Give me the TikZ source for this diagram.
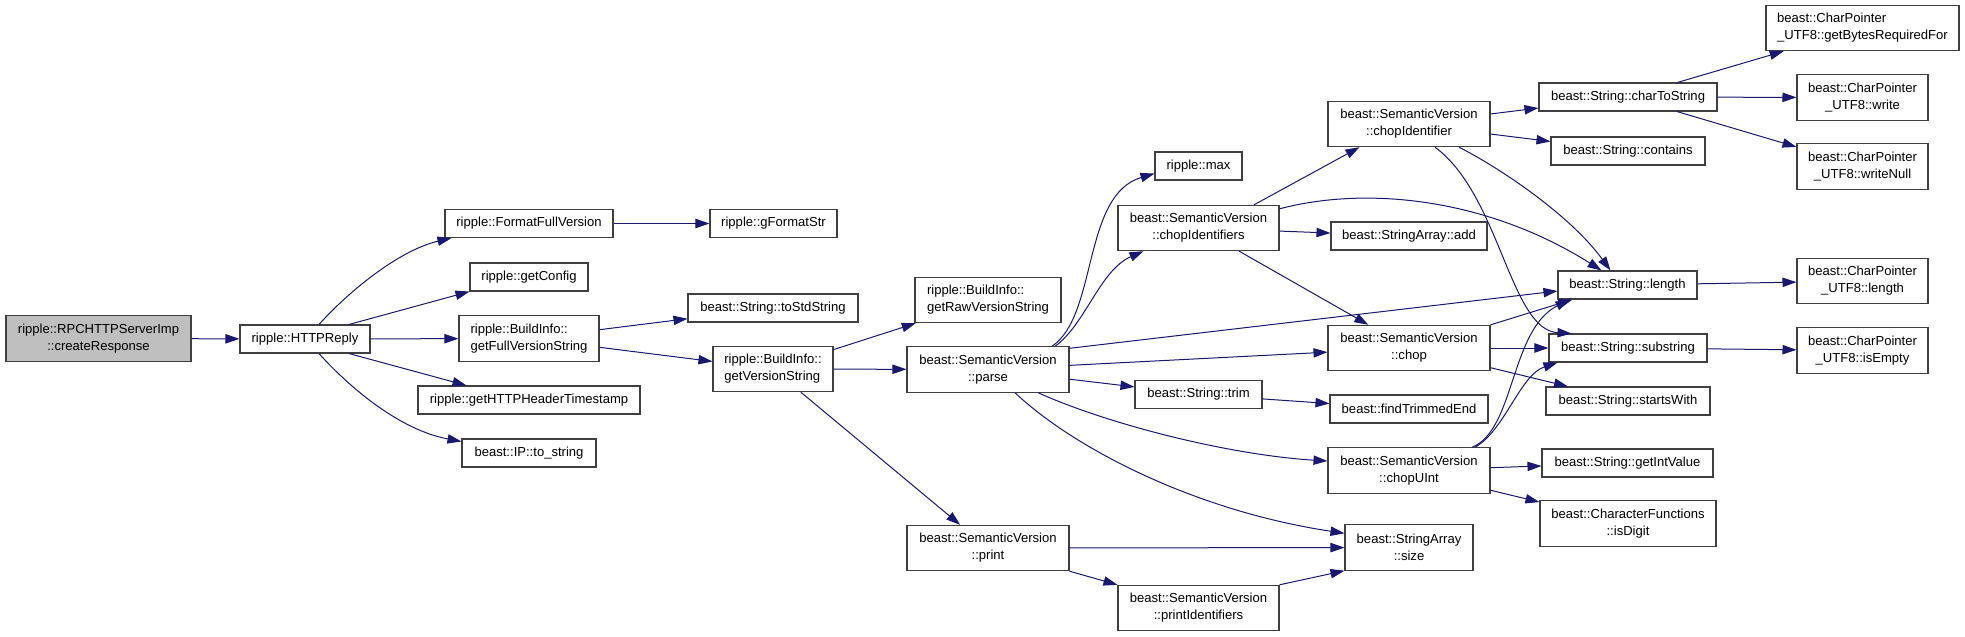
\documentclass[tikz,border=0pt]{standalone}
\usepackage{fontspec}
\setmainfont{Liberation Sans}
\usetikzlibrary{arrows.meta,calc}
\definecolor{edgeblue}{HTML}{191970}
\definecolor{boxline}{HTML}{404040}
\newcommand{\fnfont}{\fontsize{9.8}{12.75}\selectfont}

\begin{document}
\begin{tikzpicture}[x=0.75pt,y=-0.75pt,
  fn/.style={draw=boxline, line width=0.8pt, fill=white, inner xsep=2pt, inner ysep=0pt, minimum height=21pt, font=\fnfont},
  fn2/.style={fn, minimum height=34pt, align=center},
  fnl/.style={fn, minimum height=34pt, align=left},
  bw/.style={minimum width=#1*0.75pt},
  call/.style={edgeblue, line width=0.75pt, -{Triangle[length=10.5pt,width=7pt]}}]
  \useasboundingbox (0,0) rectangle (1965,636);

  % Caller
  \node[fn2, bw=185, fill=black!25] (root) at (98.5,338.5) {ripple::RPCHTTPServerImp\\::createResponse};
  \node[fn, bw=130] (http) at (305,339) {ripple::HTTPReply};
  % ripple column
  \node[fn, bw=168] (ffv) at (529,223.5) {ripple::FormatFullVersion};
  \node[fn, bw=118] (cfg) at (529,277) {ripple::getConfig};
  \node[fnl, bw=140] (gfvs) at (529,338.5) {ripple::BuildInfo::\\getFullVersionString};
  \node[fn, bw=222] (hts) at (529,400) {ripple::getHTTPHeaderTimestamp};
  \node[fn, bw=134] (ipstr) at (529,453) {beast::IP::to\_string};
  \node[fn, bw=127] (gfmt) at (773.5,223.5) {ripple::gFormatStr};
  \node[fn, bw=170] (stdstr) at (773,308) {beast::String::toStdString};
  \node[fnl, bw=120] (gvs) at (773,369) {ripple::BuildInfo::\\getVersionString};
  % SemanticVersion
  \node[fnl, bw=146] (raw) at (988,300) {ripple::BuildInfo::\\getRawVersionString};
  \node[fn2, bw=162] (parse) at (988,369.5) {beast::SemanticVersion\\::parse};
  \node[fn2, bw=162] (print) at (988,548) {beast::SemanticVersion\\::print};
  \node[fn, bw=87] (max) at (1198.5,166) {ripple::max};
  \node[fn2, bw=161] (cids) at (1198.5,228) {beast::SemanticVersion\\::chopIdentifiers};
  \node[fn, bw=127] (trim) at (1198.5,394.5) {beast::String::trim};
  \node[fn2, bw=161] (pids) at (1198.5,608) {beast::SemanticVersion\\::printIdentifiers};
  \node[fn2, bw=162] (cid) at (1409,124) {beast::SemanticVersion\\::chopIdentifier};
  \node[fn, bw=156] (add) at (1409,236) {beast::StringArray::add};
  \node[fn2, bw=162] (chop) at (1409,348) {beast::SemanticVersion\\::chop};
  \node[fn, bw=158] (fte) at (1409,409) {beast::findTrimmedEnd};
  \node[fn2, bw=162] (cuint) at (1409,470.5) {beast::SemanticVersion\\::chopUInt};
  \node[fn2, bw=128] (size) at (1409,547.5) {beast::StringArray\\::size};
  % String column
  \node[fn, bw=178] (c2s) at (1628,97) {beast::String::charToString};
  \node[fn, bw=154] (contains) at (1628,151) {beast::String::contains};
  \node[fn, bw=139] (len) at (1627.5,285) {beast::String::length};
  \node[fn, bw=158] (sub) at (1628,348) {beast::String::substring};
  \node[fn, bw=164] (sw) at (1628,401) {beast::String::startsWith};
  \node[fn, bw=171] (giv) at (1627.5,463) {beast::String::getIntValue};
  \node[fn2, bw=176] (dig) at (1628,523.5) {beast::CharacterFunctions\\::isDigit};
  % CharPointer_UTF8
  \node[fnl, bw=193] (bytes) at (1862.5,28) {beast::CharPointer\\\_UTF8::getBytesRequiredFor};
  \node[fn2, bw=131] (wr) at (1862.5,97.5) {beast::CharPointer\\\_UTF8::write};
  \node[fn2, bw=131] (wn) at (1862.5,166.5) {beast::CharPointer\\\_UTF8::writeNull};
  \node[fn2, bw=131] (cplen) at (1862.5,281) {beast::CharPointer\\\_UTF8::length};
  \node[fn2, bw=131] (empty) at (1862.5,350.5) {beast::CharPointer\\\_UTF8::isEmpty};

  % Calls
  \draw[call] (root) -- (http);
  \draw[call] ($(http.north)+(14,0)$) .. controls (350,290) and (400,250) .. ($(ffv.south west)+(7,0)$);
  \draw[call] ($(http.north)+(44,0)$) -- (cfg.south west);
  \draw[call] (http) -- (gfvs);
  \draw[call] ($(http.south)+(44,0)$) -- ($(hts.north west)+(49,0)$);
  \draw[call] ($(http.south)+(14,0)$) .. controls (350,388) and (400,430) .. ($(ipstr.north west)+(0,3)$);
  \draw[call] (ffv) -- (gfmt);
  \draw[call] (gfvs) -- (stdstr);
  \draw[call] (gfvs) -- (gvs);
  \draw[call] (gvs) -- (raw);
  \draw[call] (gvs) -- (parse);
  \draw[call] (gvs) -- (print);
  % from parse
  \draw[call] ($(parse.north)+(64,0)$) .. controls (1098,315) and (1082,195) .. ($(max.south west)+(0,-7)$);
  \draw[call] ($(parse.north)+(67,0)$) .. controls (1085,325) and (1100,270) .. ($(cids.south west)+(26,0)$);
  \draw[call] (parse) -- (chop);
  \draw[call] ($(parse.north east)+(0,2)$) -- ($(len.west)+(0,6)$);
  \draw[call] (parse) -- (trim);
  \draw[call] ($(parse.south)+(50,0)$) .. controls (1110,425) and (1230,455) .. ($(cuint.west)+(0,-9.5)$);
  \draw[call] ($(parse.south)+(27,0)$) .. controls (1070,445) and (1190,510) .. ($(size.north west)+(0,9)$);
  % from print
  \draw[call] (print) -- (size);
  \draw[call] (print.south east) -- (pids.north west);
  \draw[call] (pids.north east) -- (size.south west);
  % from chopIdentifiers
  \draw[call] ($(cids.north)+(55.5,0)$) -- ($(cid.south west)+(32,0)$);
  \draw[call] ($(cids.north east)+(0,4)$) .. controls (1370,185) and (1490,200) .. ($(len.north)+(-26,0)$);
  \draw[call] (cids) -- (add);
  \draw[call] (cids) -- (chop);
  % from chopIdentifier
  \draw[call] (cid) -- (c2s);
  \draw[call] (cid) -- (contains);
  \draw[call] ($(cid.south)+(50,0)$) .. controls (1500,168) and (1570,215) .. ($(len.north)+(-17,0)$);
  \draw[call] ($(cid.south)+(26,0)$) .. controls (1500,195) and (1510,330) .. ($(sub.north west)+(23,0)$);
  % from chop
  \draw[call] (chop.north east) -- ($(len.south west)+(15,0)$);
  \draw[call] (chop) -- (sub);
  \draw[call] (chop) -- (sw);
  % from chopUInt
  \draw[call] ($(cuint.north)+(63,0)$) .. controls (1515,430) and (1510,330) .. ($(len.south west)+(12,0)$);
  \draw[call] ($(cuint.north)+(66,0)$) .. controls (1505,430) and (1520,375) .. ($(sub.south west)+(9,0)$);
  \draw[call] (cuint) -- (giv);
  \draw[call] (cuint) -- (dig);
  % leaves
  \draw[call] (trim) -- (fte);
  \draw[call] (c2s) -- (bytes);
  \draw[call] (c2s) -- (wr);
  \draw[call] (c2s) -- (wn);
  \draw[call] (len) -- (cplen);
  \draw[call] (sub) -- (empty);
\end{tikzpicture}
\end{document}
